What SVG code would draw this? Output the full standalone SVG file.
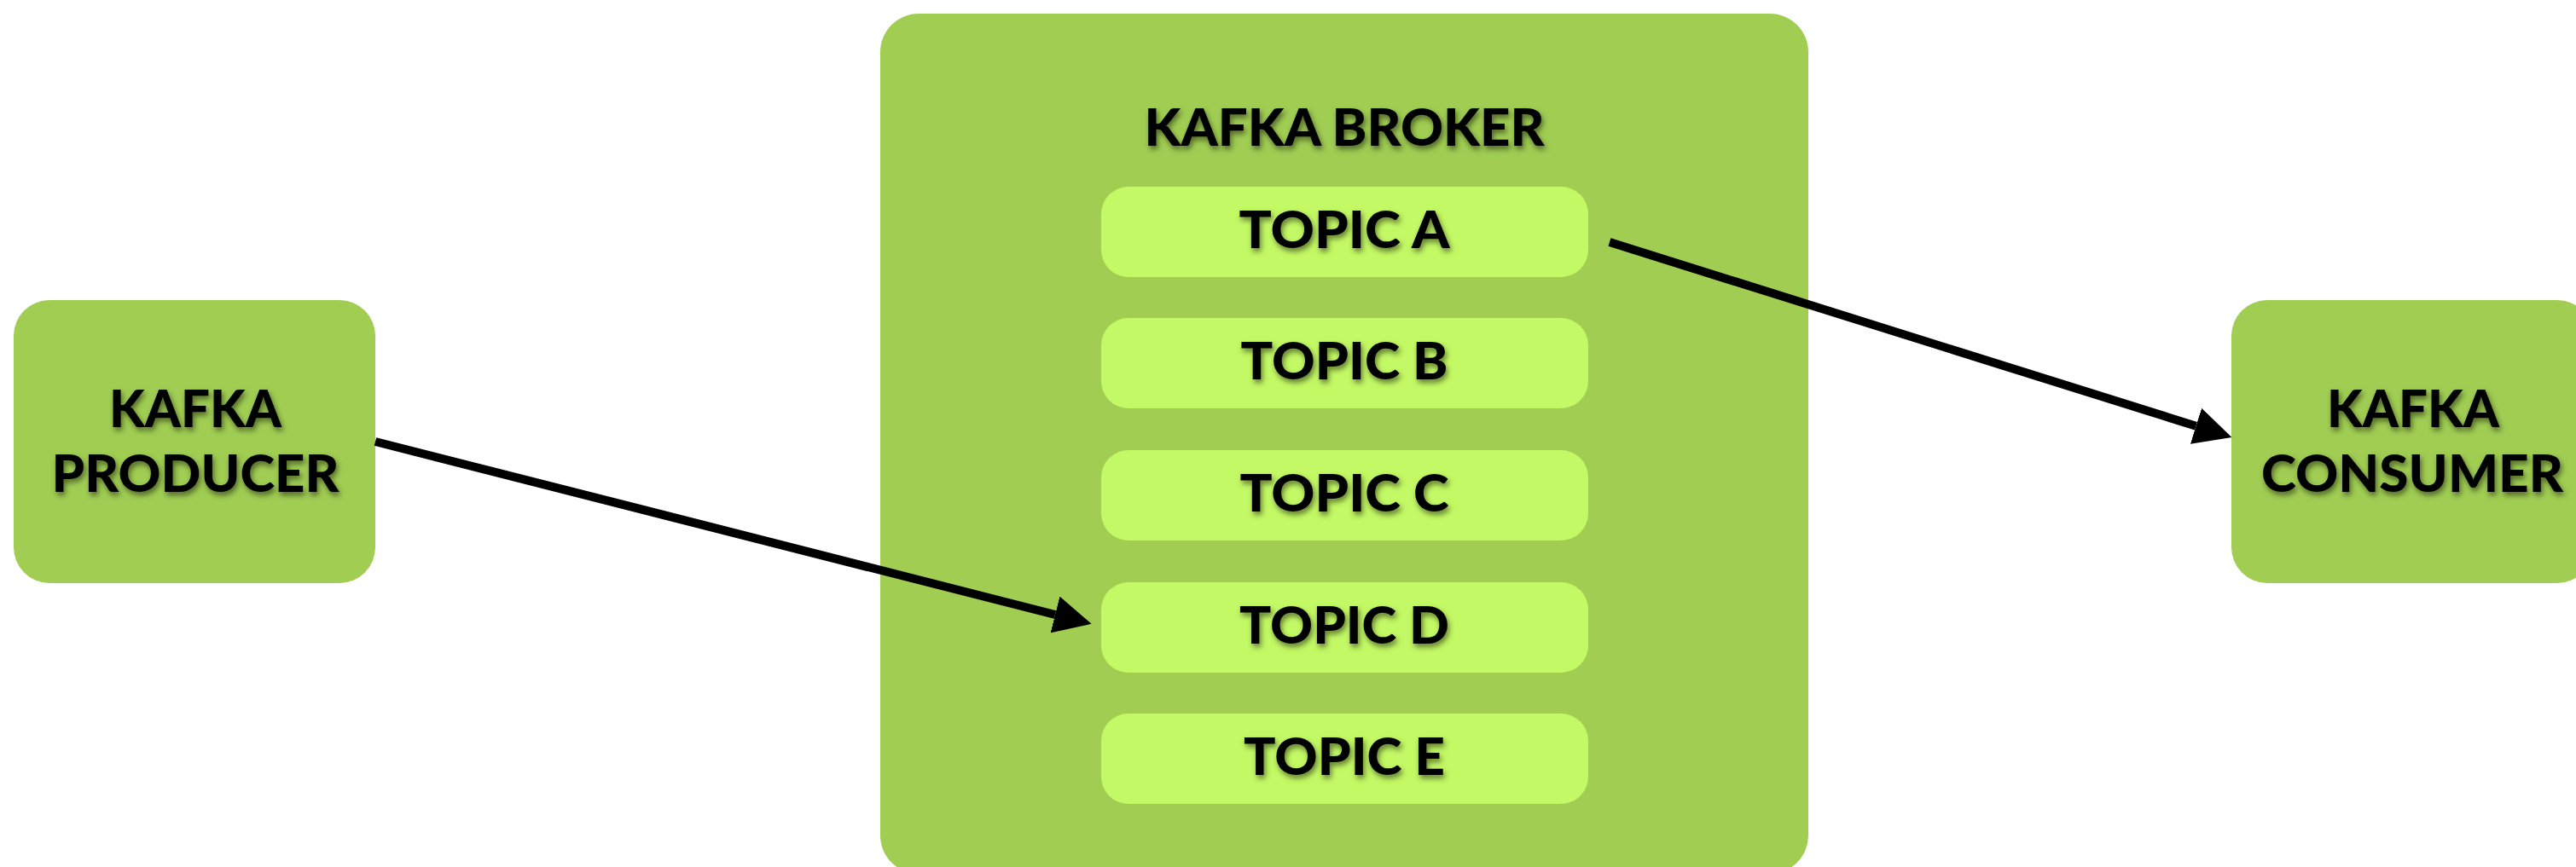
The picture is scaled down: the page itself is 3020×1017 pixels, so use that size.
<svg xmlns="http://www.w3.org/2000/svg" width="3020" height="1017" viewBox="0 0 3020 1017">
  <style>
    .box { fill: #A0CD52; }
    .topic { fill: #C3F964; }
    .lbl { font-family: Lato, "Liberation Sans", sans-serif; font-weight: 900; font-size: 61px; fill: #000; text-anchor: middle; filter: url(#shadow); }
    .conn { stroke: #000; stroke-width: 10; fill: none; marker-end: url(#arrow); }
  </style>
  <defs>
    <filter id="shadow" x="-10%" y="-30%" width="120%" height="160%">
      <feDropShadow dx="2" dy="4" stdDeviation="3" flood-color="#000" flood-opacity="0.5"/>
    </filter>
    <marker id="arrow" markerUnits="userSpaceOnUse" markerWidth="44" markerHeight="44" viewBox="0 0 44 44" refX="0" refY="22" orient="auto">
      <path d="M0,0 L44,22 L0,44 Z" fill="#000"/>
    </marker>
  </defs>
  <rect width="3020" height="1017" fill="#fff"/>

  <g id="producer">
    <rect class="box" x="16" y="352" width="424" height="332" rx="42"/>
    <text class="lbl" x="229" y="501" textLength="202" lengthAdjust="spacingAndGlyphs">KAFKA</text>
    <text class="lbl" x="229" y="577" textLength="337" lengthAdjust="spacingAndGlyphs">PRODUCER</text>
  </g>

  <g id="broker">
    <rect class="box" x="1032" y="16" width="1088" height="1009" rx="45"/>
    <text class="lbl" x="1576" y="171" textLength="469" lengthAdjust="spacingAndGlyphs">KAFKA BROKER</text>
  </g>

  <g id="topic-a">
    <rect class="topic" x="1291" y="219" width="571" height="106" rx="32"/>
    <text class="lbl" x="1576" y="291" textLength="247" lengthAdjust="spacingAndGlyphs">TOPIC A</text>
  </g>
  <g id="topic-b">
    <rect class="topic" x="1291" y="373" width="571" height="106" rx="32"/>
    <text class="lbl" x="1576" y="445" textLength="243" lengthAdjust="spacingAndGlyphs">TOPIC B</text>
  </g>
  <g id="topic-c">
    <rect class="topic" x="1291" y="528" width="571" height="106" rx="32"/>
    <text class="lbl" x="1576" y="600" textLength="245" lengthAdjust="spacingAndGlyphs">TOPIC C</text>
  </g>
  <g id="topic-d">
    <rect class="topic" x="1291" y="683" width="571" height="106" rx="32"/>
    <text class="lbl" x="1576" y="755" textLength="246" lengthAdjust="spacingAndGlyphs">TOPIC D</text>
  </g>
  <g id="topic-e">
    <rect class="topic" x="1291" y="837" width="571" height="106" rx="32"/>
    <text class="lbl" x="1576" y="909" textLength="236" lengthAdjust="spacingAndGlyphs">TOPIC E</text>
  </g>

  <g id="consumer">
    <rect class="box" x="2616" y="352" width="424" height="332" rx="42"/>
    <text class="lbl" x="2829" y="501" textLength="202" lengthAdjust="spacingAndGlyphs">KAFKA</text>
    <text class="lbl" x="2828" y="577" textLength="354" lengthAdjust="spacingAndGlyphs">CONSUMER</text>
  </g>

  <g id="connectors">
    <line class="conn" x1="440" y1="518" x2="1237" y2="721"/>
    <line class="conn" x1="1887" y1="284" x2="2574.5" y2="499.8"/>
  </g>
</svg>
